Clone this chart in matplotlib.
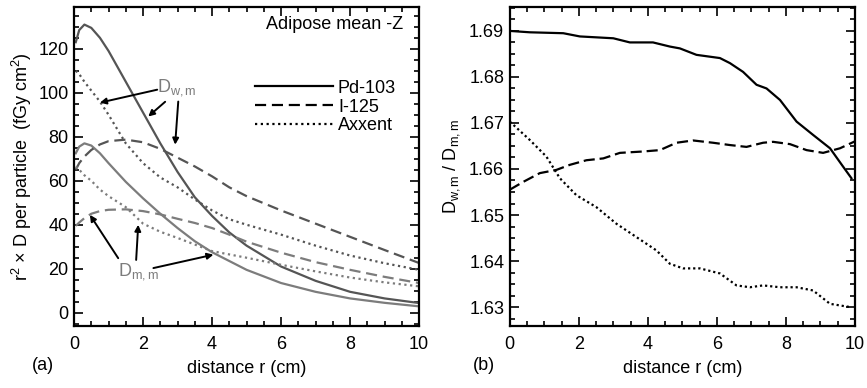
import matplotlib
matplotlib.use("Agg")
import matplotlib.pyplot as plt
from matplotlib.ticker import MultipleLocator, FormatStrFormatter

plt.rcParams['font.family'] = ['Liberation Sans', 'DejaVu Sans']
plt.rcParams['mathtext.fontset'] = 'custom'
plt.rcParams['mathtext.rm'] = 'Liberation Sans'
plt.rcParams['mathtext.it'] = 'Liberation Sans'

# ---------------- data: panel (a) ----------------
r_a = [0.05, 0.15, 0.3, 0.5, 0.75, 1.0, 1.5, 2.0, 2.5, 3.0, 3.5, 4.0, 4.5, 5.0,
       6.0, 7.0, 8.0, 9.0, 10.0]
pd_dwm = [123, 128.5, 131, 129.5, 125, 119, 105, 91, 77, 64, 52.5, 44, 36.5, 30.5,
          21, 14.5, 9.5, 6.5, 4.4]
pd_dmm = [72.5, 75.5, 77, 76, 72.5, 68, 59.5, 52, 45, 38.5, 32.5, 27.5, 23.5, 19.5,
          13.5, 9.5, 6.5, 4.5, 2.9]
i_dwm = [65, 68, 71, 74, 76.5, 78, 78.7, 77.5, 74.5, 70.5, 66.5, 62, 57, 53,
         46.5, 40.5, 34.5, 28.5, 22.6]
i_dmm = [39.5, 41, 43, 45, 46.2, 46.8, 47, 46.2, 44.7, 42.7, 40.8, 38.5, 35.5, 32.3,
         27.3, 23, 19.5, 16.3, 13.5]
ax_dwm = [110, 108.5, 105, 101, 96, 90, 77, 68, 61.5, 57, 51.5, 46.5, 42.5, 40,
          35.5, 30.5, 26, 22.5, 19.5]
ax_dmm = [66.5, 65, 62.5, 60, 56, 53, 48, 40.5, 36.8, 34, 31, 28, 26.5, 25,
          21.8, 18.8, 16, 13.8, 12]
legend_labels = ["Pd-103", "I-125", "Axxent"]

# ---------------- data: panel (b) ----------------
r_pd = [0.0, 0.58, 1.55, 2.03, 3.0, 3.48, 4.15, 4.64, 4.93, 5.41, 6.09, 6.38, 6.76,
        7.15, 7.44, 7.83, 8.31, 8.79, 9.28, 9.66, 9.9]
ratio_pd = [1.6900, 1.6897, 1.6895, 1.6888, 1.6884, 1.6875, 1.6875, 1.6866, 1.6862,
            1.6848, 1.6841, 1.6830, 1.6811, 1.6783, 1.6775, 1.6750, 1.6703, 1.6674,
            1.6645, 1.6605, 1.6580]
r_i = [0.0, 0.39, 0.87, 1.35, 1.74, 2.22, 2.71, 3.19, 3.86, 4.35, 4.83, 5.31, 5.89,
       6.38, 6.86, 7.34, 7.63, 8.12, 8.6, 9.08, 9.57, 10.0]
ratio_i = [1.6555, 1.6572, 1.6591, 1.6598, 1.6609, 1.6619, 1.6623, 1.6635, 1.6638,
           1.6641, 1.6657, 1.6662, 1.6657, 1.6652, 1.6648, 1.6657, 1.6659, 1.6654,
           1.6641, 1.6635, 1.6645, 1.6660]
r_ax = [0.0, 0.58, 1.06, 1.45, 1.93, 2.51, 3.09, 3.67, 4.25, 4.64, 5.02, 5.51, 6.09,
        6.57, 6.96, 7.34, 7.83, 8.31, 8.79, 9.28, 9.86]
ratio_ax = [1.6703, 1.6663, 1.6627, 1.6580, 1.6543, 1.6517, 1.6481, 1.6452, 1.6423,
            1.6394, 1.6384, 1.6384, 1.6373, 1.6347, 1.6343, 1.6347, 1.6343, 1.6343,
            1.6336, 1.6307, 1.6300]

FS = 13
DARK = '#555555'
LIGHT = '#7c7c7c'
LW = 1.6

fig = plt.figure(figsize=(8.67, 3.88), dpi=100)
axa = fig.add_axes([0.0854, 0.160, 0.398, 0.822])
axb = fig.add_axes([0.588, 0.160, 0.398, 0.822])

def style(ax):
    for s in ax.spines.values():
        s.set_linewidth(1.6)
    ax.tick_params(which='both', direction='in', top=True, right=True,
                   labelsize=FS, width=1.2)
    ax.tick_params(which='major', length=6.5)
    ax.tick_params(which='minor', length=3.5)
    ax.tick_params(axis='x', which='major', pad=7)
    ax.tick_params(axis='y', which='major', pad=4)
    ax.set_xlim(0, 10)
    ax.xaxis.set_major_locator(MultipleLocator(2))
    ax.xaxis.set_minor_locator(MultipleLocator(0.5))
    ax.set_xlabel("distance r (cm)", fontsize=FS, labelpad=5)

# ---- panel (a)
dash = (0, (5, 2.6))
dot = (0, (1, 1.6))
axa.plot(r_a, pd_dwm, color=DARK, lw=LW, ls='-')
axa.plot(r_a, pd_dmm, color=LIGHT, lw=LW, ls='-')
axa.plot(r_a, i_dwm, color=DARK, lw=LW, ls=dash)
axa.plot(r_a, i_dmm, color=LIGHT, lw=LW, ls=dash)
axa.plot(r_a, ax_dwm, color=DARK, lw=LW, ls=dot)
axa.plot(r_a, ax_dmm, color=LIGHT, lw=LW, ls=dot)
# legend proxies (black)
h1, = axa.plot([], [], color='black', lw=LW, ls='-')
h2, = axa.plot([], [], color='black', lw=LW, ls=dash)
h3, = axa.plot([], [], color='black', lw=LW, ls=dot)
leg = axa.legend([h1, h2, h3], legend_labels, loc='upper left',
                 bbox_to_anchor=(0.525, 0.772), frameon=False, fontsize=FS,
                 handlelength=4.3, handletextpad=0.28, labelspacing=0.1,
                 borderaxespad=0.0, borderpad=0.0)
axa.text(0.953, 0.945, "Adipose mean -Z", transform=axa.transAxes, ha='right',
         va='center', fontsize=FS)
axa.set_ylim(-6, 139)
axa.yaxis.set_major_locator(MultipleLocator(20))
axa.yaxis.set_minor_locator(MultipleLocator(5))
axa.set_ylabel(r"r$^2$ × D per particle  (fGy cm$^2$)", fontsize=FS, labelpad=3)
style(axa)

ap = dict(arrowstyle='-|>', color='black', lw=1.4, mutation_scale=9,
          shrinkA=0, shrinkB=0)
axa.text(2.97, 102.5, r"D$_{\mathrm{w,m}}$", color=LIGHT, fontsize=FS, ha='center',
         va='center')
axa.annotate("", xy=(0.75, 95.5), xytext=(2.41, 101.4), arrowprops=ap)
axa.annotate("", xy=(2.15, 89.2), xytext=(2.64, 95.9), arrowprops=ap)
axa.annotate("", xy=(2.93, 76.4), xytext=(3.02, 96), arrowprops=ap)
axa.text(1.88, 18.5, r"D$_{\mathrm{m,m}}$", color=LIGHT, fontsize=FS, ha='center',
         va='center')
axa.annotate("", xy=(0.46, 44.5), xytext=(1.28, 24.8), arrowprops=ap)
axa.annotate("", xy=(1.86, 40), xytext=(1.8, 24), arrowprops=ap)
axa.annotate("", xy=(4.04, 26.4), xytext=(2.3, 20.3), arrowprops=ap)

# ---- panel (b)
axb.plot(r_pd, ratio_pd, color='black', lw=LW, ls='-')
axb.plot(r_i, ratio_i, color='black', lw=LW, ls=(0, (5, 2.2)))
axb.plot(r_ax, ratio_ax, color='black', lw=LW, ls=(0, (1, 1.3)))
axb.set_ylim(1.6259, 1.6952)
axb.yaxis.set_major_locator(MultipleLocator(0.01))
axb.yaxis.set_minor_locator(MultipleLocator(0.0025))
axb.yaxis.set_major_formatter(FormatStrFormatter('%.2f'))
axb.set_ylabel(r"D$_{\mathrm{w,m}}$ / D$_{\mathrm{m,m}}$", fontsize=FS, labelpad=5)
style(axb)

fig.text(0.037, 0.057, "(a)", fontsize=FS, va='center')
fig.text(0.545, 0.057, "(b)", fontsize=FS, va='center')

fig.savefig("out.png", dpi=100)
